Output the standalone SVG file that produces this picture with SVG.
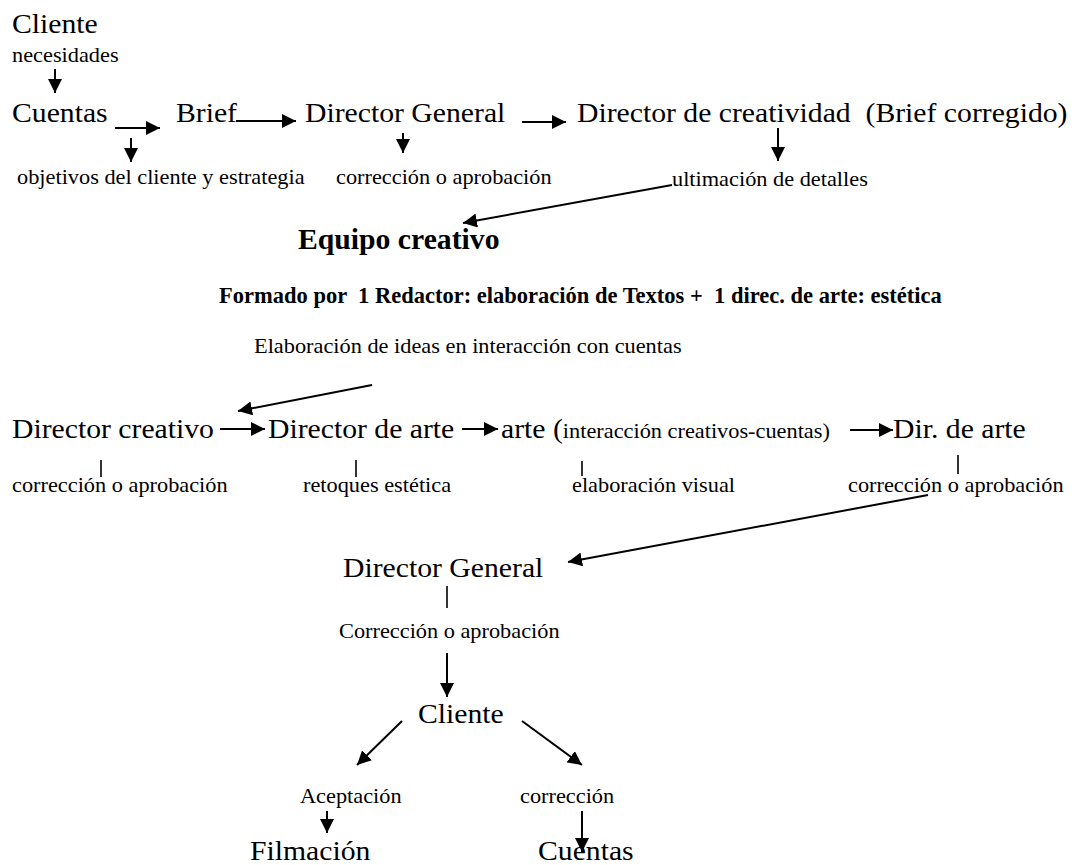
<svg xmlns="http://www.w3.org/2000/svg" width="1074" height="865" viewBox="0 0 1074 865">
<style>
text{font-family:"Liberation Serif","Times New Roman",serif;fill:#000;white-space:pre}
.L{font-size:27px}
.s{font-size:20.3px}
.b{font-weight:bold}
.c{stroke:#000;stroke-width:2;fill:none}
.t{stroke:#000;stroke-width:1.6;fill:none}
</style>
<defs>
<marker id="ah" markerUnits="userSpaceOnUse" markerWidth="15" markerHeight="14" refX="14" refY="7" orient="auto" viewBox="0 0 15 14">
<path d="M0,0 L14,7 L0,14 z" fill="#000"/>
</marker>
</defs>
<rect width="1074" height="865" fill="#fff"/>
<g id="connectors">
<line class="c" x1="55" y1="69" x2="55" y2="93" marker-end="url(#ah)"/>
<line class="c" x1="115" y1="128" x2="160" y2="128" marker-end="url(#ah)"/>
<line class="c" x1="131" y1="138" x2="131" y2="162" marker-end="url(#ah)"/>
<line class="c" x1="236" y1="121" x2="296" y2="121" marker-end="url(#ah)"/>
<line class="c" x1="403" y1="133" x2="403" y2="153" marker-end="url(#ah)"/>
<line class="c" x1="522" y1="122" x2="566" y2="122" marker-end="url(#ah)"/>
<line class="c" x1="778" y1="128" x2="778" y2="161" marker-end="url(#ah)"/>
<line class="c" x1="672" y1="185" x2="463" y2="223" marker-end="url(#ah)"/>
<line class="c" x1="372" y1="385" x2="238" y2="411" marker-end="url(#ah)"/>
<line class="c" x1="220" y1="429" x2="265" y2="429" marker-end="url(#ah)"/>
<line class="c" x1="462" y1="429" x2="498" y2="429" marker-end="url(#ah)"/>
<line class="c" x1="850" y1="430" x2="893" y2="430" marker-end="url(#ah)"/>
<line class="c" x1="928" y1="495" x2="568" y2="562" marker-end="url(#ah)"/>
<line class="c" x1="447" y1="653" x2="447" y2="697" marker-end="url(#ah)"/>
<line class="c" x1="402" y1="721" x2="357" y2="765" marker-end="url(#ah)"/>
<line class="c" x1="522" y1="721" x2="582" y2="765" marker-end="url(#ah)"/>
<line class="c" x1="327" y1="811" x2="327" y2="833" marker-end="url(#ah)"/>
<line class="c" x1="582" y1="811" x2="582" y2="852" marker-end="url(#ah)"/>
<line class="t" x1="101" y1="460" x2="101" y2="477"/>
<line class="t" x1="356" y1="460" x2="356" y2="477"/>
<line class="t" x1="582" y1="461" x2="582" y2="476"/>
<line class="t" x1="958" y1="455" x2="958" y2="474"/>
<line class="t" x1="447" y1="586" x2="447" y2="608"/>
</g>
<g id="cliente-1"><text class="L" transform="translate(12,33) scale(1.1,1)">Cliente</text></g>
<g id="lbl-necesidades"><text class="s" transform="translate(12,62) scale(1.1,1)">necesidades</text></g>
<g id="cuentas-1"><text class="L" transform="translate(12,122) scale(1.1,1)">Cuentas</text></g>
<g id="brief"><text class="L" transform="translate(176,122) scale(1.1,1)">Brief</text></g>
<g id="director-general-1"><text class="L" transform="translate(305,122) scale(1.1,1)">Director General</text></g>
<g id="director-creatividad"><text class="L" transform="translate(577,122) scale(1.1,1)">Director de creatividad  (Brief corregido)</text></g>
<g id="lbl-objetivos"><text class="s" transform="translate(17,184) scale(1.1,1)">objetivos del cliente y estrategia</text></g>
<g id="lbl-correccion-1"><text class="s" transform="translate(336,184) scale(1.1,1)">corrección o aprobación</text></g>
<g id="lbl-ultimacion"><text class="s" transform="translate(672,186) scale(1.1,1)">ultimación de detalles</text></g>
<g id="equipo-creativo"><text class="b" font-size="29.7" x="298" y="249">Equipo creativo</text></g>
<g id="formado"><text class="b" font-size="23.7" transform="translate(219,303) scale(0.95,1)">Formado por  1 Redactor: elaboración de Textos +  1 direc. de arte: estética</text></g>
<g id="lbl-elaboracion-ideas"><text class="s" transform="translate(254,353) scale(1.1,1)">Elaboración de ideas en interacción con cuentas</text></g>
<g id="director-creativo"><text class="L" transform="translate(12,438) scale(1.1,1)">Director creativo</text></g>
<g id="director-arte"><text class="L" transform="translate(268,438) scale(1.1,1)">Director de arte</text></g>
<g id="arte"><text class="L" transform="translate(501,438) scale(1.1,1)">arte (<tspan class="s">interacción creativos-cuentas)</tspan></text></g>
<g id="dir-arte"><text class="L" transform="translate(893,438) scale(1.1,1)">Dir. de arte</text></g>
<g id="lbl-correccion-2"><text class="s" transform="translate(12,492) scale(1.1,1)">corrección o aprobación</text></g>
<g id="lbl-retoques"><text class="s" transform="translate(303,492) scale(1.1,1)">retoques estética</text></g>
<g id="lbl-elaboracion-visual"><text class="s" transform="translate(572,492) scale(1.1,1)">elaboración visual</text></g>
<g id="lbl-correccion-3"><text class="s" transform="translate(848,492) scale(1.1,1)">corrección o aprobación</text></g>
<g id="director-general-2"><text class="L" transform="translate(343,577) scale(1.1,1)">Director General</text></g>
<g id="lbl-correccion-4"><text class="s" transform="translate(339,638) scale(1.1,1)">Corrección o aprobación</text></g>
<g id="cliente-2"><text class="L" transform="translate(418,723) scale(1.1,1)">Cliente</text></g>
<g id="lbl-aceptacion"><text class="s" transform="translate(300,803) scale(1.1,1)">Aceptación</text></g>
<g id="lbl-correccion-5"><text class="s" transform="translate(520,803) scale(1.1,1)">corrección</text></g>
<g id="filmacion"><text class="L" transform="translate(250,860) scale(1.1,1)">Filmación</text></g>
<g id="cuentas-2"><text class="L" transform="translate(538,860) scale(1.1,1)">Cuentas</text></g>
</svg>
